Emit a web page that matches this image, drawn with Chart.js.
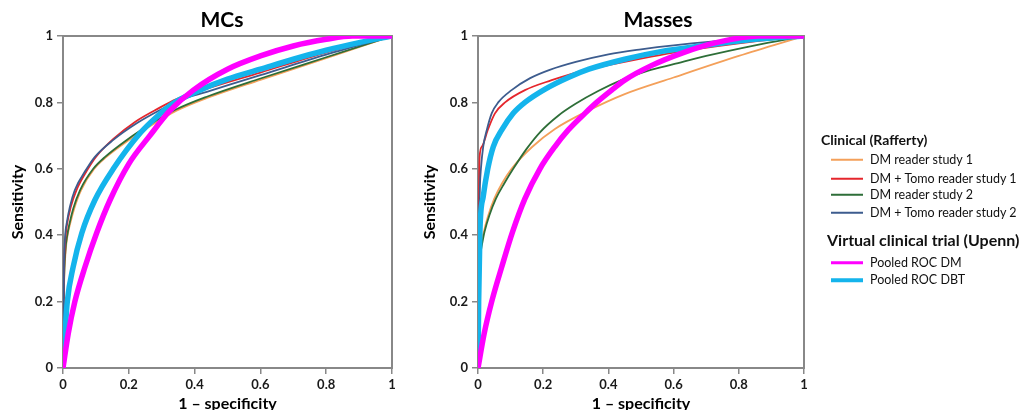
<!DOCTYPE html>
<html>
<head>
<meta charset="utf-8">
<script src="https://cdn.jsdelivr.net/npm/chart.js@4.4.1/dist/chart.umd.min.js"></script>
<style>
html,body{margin:0;padding:0;background:#fff;overflow:hidden;width:1021px;height:410px;position:relative;}
canvas{position:absolute;top:0;}
#c1{left:0;}
#c2{left:412px;}
.lg{position:absolute;font-family:Lato,"Open Sans",sans-serif;color:#111;white-space:nowrap;line-height:1;transform:translateY(-50%);}
.hd{font-weight:bold;}
.sw{position:absolute;height:3px;width:32px;transform:translateY(-50%);}
</style>
</head>
<body>
<canvas id="c1" width="444" height="420"></canvas>
<canvas id="c2" width="492" height="420"></canvas>
<div id="legend"></div>
<script>
// ---- Data ----
const tickValues = [0, 0.2, 0.4, 0.6, 0.8, 1];
const tickLabels = ['0', '0.2', '0.4', '0.6', '0.8', '1'];

const panelTitles = ['MCs', 'Masses'];
const xAxisTitle = '1 – specificity';
const yAxisTitle = 'Sensitivity';

const seriesNames = ['DM reader study 1', 'DM + Tomo reader study 1', 'DM reader study 2',
  'DM + Tomo reader study 2', 'Pooled ROC DM', 'Pooled ROC DBT'];
const groupNames = ['Clinical (Rafferty)', 'Virtual clinical trial (Upenn)'];

// MCs panel: [1-specificity, sensitivity]
const mcsDmStudy1 = [[0,0],[0.003,0.24],[0.008,0.35],[0.014,0.4],[0.022,0.436],[0.034,0.48],[0.055,0.536],[0.095,0.6],[0.132,0.636],[0.198,0.685],[0.275,0.735],[0.345,0.775],[0.44,0.814],[0.6,0.868],[0.8,0.933],[1,1]];
const mcsTomoStudy1 = [[0,0],[0.003,0.28],[0.006,0.37],[0.012,0.43],[0.024,0.486],[0.041,0.536],[0.076,0.6],[0.1,0.636],[0.153,0.69],[0.22,0.742],[0.29,0.782],[0.345,0.81],[0.42,0.836],[0.6,0.89],[0.8,0.95],[1,1]];
const mcsDmStudy2 = [[0,0],[0.003,0.25],[0.007,0.35],[0.013,0.4],[0.02,0.436],[0.031,0.48],[0.052,0.536],[0.092,0.6],[0.128,0.636],[0.194,0.687],[0.27,0.737],[0.34,0.777],[0.437,0.817],[0.6,0.872],[0.8,0.936],[1,1]];
const mcsTomoStudy2 = [[0,0],[0.003,0.3],[0.006,0.39],[0.012,0.44],[0.021,0.486],[0.036,0.536],[0.072,0.6],[0.097,0.636],[0.153,0.687],[0.224,0.737],[0.295,0.777],[0.356,0.807],[0.437,0.832],[0.6,0.882],[0.8,0.944],[1,1]];
const mcsPooledDM = [[0,0],[0.016,0.104],[0.036,0.2],[0.067,0.305],[0.102,0.406],[0.143,0.506],[0.2,0.615],[0.264,0.7],[0.325,0.775],[0.396,0.837],[0.5,0.9],[0.6,0.94],[0.7,0.97],[0.8,0.99],[0.88,1],[1,1]];
const mcsPooledDBT = [[0,0],[0.006,0.104],[0.013,0.2],[0.031,0.305],[0.057,0.406],[0.097,0.506],[0.153,0.6],[0.234,0.707],[0.285,0.757],[0.335,0.797],[0.416,0.837],[0.5,0.87],[0.6,0.9],[0.7,0.93],[0.8,0.957],[0.9,0.98],[1,1]];

// Masses panel
const masDmStudy1 = [[0,0],[0.003,0.2],[0.008,0.35],[0.018,0.41],[0.03,0.455],[0.05,0.51],[0.073,0.555],[0.103,0.6],[0.165,0.665],[0.236,0.72],[0.338,0.775],[0.45,0.825],[0.6,0.875],[0.8,0.94],[1,1]];
const masTomoStudy1 = [[0,0],[0.002,0.4],[0.005,0.637],[0.012,0.667],[0.03,0.717],[0.052,0.767],[0.083,0.8],[0.144,0.837],[0.226,0.867],[0.3,0.89],[0.4,0.912],[0.5,0.932],[0.6,0.95],[0.8,0.978],[1,1]];
const masDmStudy2 = [[0,0],[0.004,0.3],[0.01,0.36],[0.02,0.41],[0.035,0.46],[0.055,0.51],[0.08,0.555],[0.108,0.6],[0.149,0.66],[0.19,0.71],[0.246,0.76],[0.298,0.795],[0.37,0.835],[0.44,0.867],[0.52,0.895],[0.6,0.915],[0.7,0.94],[0.85,0.972],[1,1]];
const masTomoStudy2 = [[0,0],[0.003,0.4],[0.006,0.55],[0.009,0.6],[0.016,0.667],[0.027,0.717],[0.042,0.767],[0.062,0.8],[0.103,0.837],[0.16,0.873],[0.22,0.898],[0.3,0.922],[0.4,0.945],[0.5,0.96],[0.6,0.972],[0.8,0.99],[1,1]];
const masPooledDM = [[0,0],[0.019,0.104],[0.042,0.2],[0.073,0.305],[0.106,0.41],[0.144,0.51],[0.19,0.6],[0.236,0.667],[0.277,0.717],[0.328,0.767],[0.364,0.8],[0.41,0.837],[0.45,0.867],[0.53,0.91],[0.63,0.95],[0.73,0.98],[0.86,1],[1,1]];
const masPooledDBT = [[0,0],[0.002,0.2],[0.006,0.416],[0.016,0.516],[0.03,0.6],[0.047,0.667],[0.073,0.717],[0.108,0.767],[0.144,0.8],[0.206,0.84],[0.277,0.875],[0.34,0.9],[0.45,0.93],[0.56,0.953],[0.7,0.972],[0.85,0.99],[1,1]];

// ---- Styles ----
const colors = ['#F4A05A', '#E5262C', '#2E6E38', '#3D5C8E', '#FF00FF', '#14B4EC'];
const widths = [1.8, 1.8, 1.8, 1.8, 5.5, 5.5];
const FONT = 'Lato, "Open Sans", sans-serif';
const GREY = '#888888';

const framePlugin = {
  id: 'frame',
  beforeDatasetsDraw(chart) {
    const {ctx, chartArea: a} = chart;
    ctx.save();
    ctx.strokeStyle = GREY;
    ctx.lineWidth = 2;
    ctx.strokeRect(a.left, a.top, a.right - a.left, a.bottom - a.top);
    ctx.restore();
  }
};

function makeChart(id, title, seriesList, yWidth, rightWidth) {
  // draw order: clinical under, pooled on top (dataset 0 is drawn last)
  const drawOrder = [4, 5, 3, 1, 2, 0];
  const datasets = drawOrder.map(i => ({
    label: seriesNames[i],
    data: seriesList[i].map(p => ({x: p[0], y: p[1]})),
    borderColor: colors[i],
    borderWidth: widths[i],
    pointRadius: 0,
    fill: false,
    cubicInterpolationMode: 'monotone',
    borderCapStyle: 'round'
  }));
  return new Chart(document.getElementById(id), {
    type: 'line',
    data: {datasets},
    plugins: [framePlugin],
    options: {
      responsive: false,
      animation: false,
      devicePixelRatio: 1,
      layout: {padding: 0},
      plugins: {
        legend: {display: false},
        tooltip: {enabled: false},
        title: {
          display: true, text: title, color: '#000',
          font: {family: FONT, weight: 'bold', size: 21, lineHeight: 1.2},
          padding: {top: 8, bottom: 2.8}
        }
      },
      scales: {
        x: {
          type: 'linear', min: 0, max: 1,
          afterBuildTicks: s => { s.ticks = tickValues.map(v => ({value: v})); },
          afterFit: s => { s.height = 52; },
          ticks: {
            callback: (v, i) => tickLabels[i],
            font: {family: FONT, weight: 'bold', size: 13}, color: '#1a1a1a',
            padding: 3, maxRotation: 0, autoSkip: false
          },
          grid: {display: true, drawOnChartArea: false, drawTicks: true, tickLength: 6, color: GREY, lineWidth: 1.5},
          border: {display: false},
          title: {display: true, text: xAxisTitle, color: '#000',
            font: {family: FONT, weight: 'bold', size: 16, lineHeight: 1.2}, padding: {top: 0, bottom: 7}}
        },
        y: {
          type: 'linear', min: 0, max: 1,
          afterBuildTicks: s => { s.ticks = tickValues.map(v => ({value: v})); },
          afterFit: s => { s.width = yWidth; },
          ticks: {
            callback: (v, i) => tickLabels[i],
            font: {family: FONT, weight: 'bold', size: 13}, color: '#1a1a1a',
            padding: 4, autoSkip: false
          },
          grid: {display: true, drawOnChartArea: false, drawTicks: true, tickLength: 6, color: GREY, lineWidth: 1.5},
          border: {display: false},
          title: {display: true, text: yAxisTitle, color: '#000',
            font: {family: FONT, weight: 'bold', size: 16, lineHeight: 1.2}, padding: {top: 8.4, bottom: 0}}
        },
        yr: {
          type: 'linear', position: 'right', display: true,
          afterFit: s => { s.width = rightWidth; },
          ticks: {display: false}, grid: {display: false}, border: {display: false}
        }
      }
    }
  });
}

makeChart('c1', panelTitles[0], [mcsDmStudy1, mcsTomoStudy1, mcsDmStudy2, mcsTomoStudy2, mcsPooledDM, mcsPooledDBT], 63, 52);
makeChart('c2', panelTitles[1], [masDmStudy1, masTomoStudy1, masDmStudy2, masTomoStudy2, masPooledDM, masPooledDBT], 66, 100);

// ---- HTML legend ----
const legendLayout = [
  {type: 'hd', text: groupNames[0], x: 821, y: 139.5, size: 14},
  {type: 'it', idx: 0, y: 159.5},
  {type: 'it', idx: 1, y: 178.5},
  {type: 'it', idx: 2, y: 194.5},
  {type: 'it', idx: 3, y: 212.5},
  {type: 'hd', text: groupNames[1], x: 827, y: 240, size: 16},
  {type: 'it', idx: 4, y: 262.5},
  {type: 'it', idx: 5, y: 280}
];
const leg = document.getElementById('legend');
legendLayout.forEach(e => {
  if (e.type === 'hd') {
    const d = document.createElement('div');
    d.className = 'lg hd';
    d.style.left = e.x + 'px'; d.style.top = e.y + 'px'; d.style.fontSize = e.size + 'px';
    d.textContent = e.text;
    leg.appendChild(d);
  } else {
    const s = document.createElement('div');
    s.className = 'sw';
    s.style.left = '831px'; s.style.top = e.y + 'px';
    s.style.background = colors[e.idx];
    s.style.height = (e.idx >= 4 ? 3.5 : 2.5) + 'px';
    leg.appendChild(s);
    const d = document.createElement('div');
    d.className = 'lg';
    d.style.left = '870px'; d.style.top = e.y + 'px'; d.style.fontSize = '12.5px';
    d.textContent = seriesNames[e.idx];
    leg.appendChild(d);
  }
});
</script>
</body>
</html>
